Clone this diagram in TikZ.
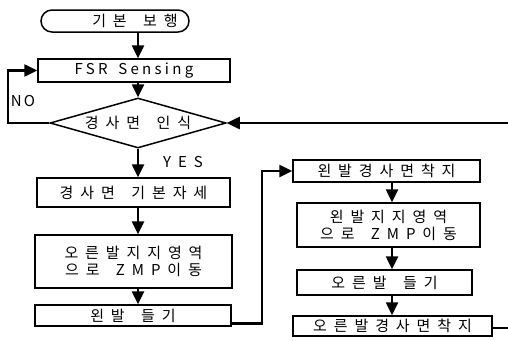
\documentclass[tikz,border=0pt]{standalone}
\usepackage{fontspec}
\setmainfont{Noto Sans CJK KR}[LetterSpace=46,WordSpace=1.6]
\usetikzlibrary{shapes.geometric,arrows.meta}
\tikzset{
    box/.style={draw,line width=1.5pt,inner sep=0pt,align=center,font=\fontsize{15}{17}\selectfont},
    term/.style={box,rounded corners=11pt},
    decision/.style={box,diamond,aspect=3.52},
    tag/.style={inner sep=0pt,font=\fontsize{15}{17}\selectfont},
    flow/.style={line width=2.5pt,-{Triangle[width=12pt,length=13pt]}}
}

\begin{document}
\begin{tikzpicture}[x=1pt,y=-1pt]
\useasboundingbox (0,0) rectangle (508,340);
\coordinate (lturn) at (8,0);
\coordinate (mturn) at (262,0);
\coordinate (rturn) at (512,0);
\coordinate (raxis) at (392,0);
\node[term,minimum width=148pt,minimum height=22pt] (start) at (115,21) {\hspace*{40pt}기본 보행};
\node[box,minimum width=192pt,minimum height=23pt] (fsr) at (134,70.5) {\addfontfeature{LetterSpace=22}FSR Sensing};
\node[decision,minimum width=176pt,minimum height=50pt] (slope) at (138,123) {경사면 인식};
\node[box,minimum width=193pt,minimum height=29pt] (pose) at (133.5,192.5) {경사면 기본자세};
\node[box,minimum width=197pt,minimum height=53pt] (zmpR) at (133.5,261.5) {오른발지지영역\\으로 ZMP이동};
\node[box,minimum width=196pt,minimum height=21pt] (liftL) at (133,315.5) {왼발 들기};
\node[box,minimum width=187pt,minimum height=22pt] (landL) at (386.5,171) {왼발경사면착지};
\node[box,minimum width=183pt,minimum height=44pt] (zmpL) at (388.5,225) {왼발지지영역\\으로 ZMP이동};
\node[box,minimum width=175pt,minimum height=25pt] (liftR) at (384.5,282.5) {오른발 들기};
\node[box,minimum width=199pt,minimum height=20pt] (landR) at (392.5,326) {오른발경사면착지};
\node[tag] (yes) at (183,162) {YES};
\node[tag] (no) at (23,101) {\addfontfeature{LetterSpace=15}NO};
\draw[flow] (start.south -| slope.north) -- (fsr.north -| slope.north);
\draw[flow] (fsr.south -| slope.north) -- (slope.north);
\draw[flow] (slope.south) -- (pose.north -| slope.south);
\draw[flow] (pose.south -| slope.south) -- (zmpR.north -| slope.south);
\draw[flow] (zmpR.south -| slope.south) -- (liftL.north -| slope.south);
\draw[flow] (slope.west) -- (slope.west -| lturn) -- (fsr.west -| lturn) -- (fsr.west);
\draw[flow] ([yshift=-8pt]liftL.east) -- ([yshift=-8pt]liftL.east -| mturn) -- (landL.west -| mturn) -- (landL.west);
\draw[flow] (landL.south -| raxis) -- (zmpL.north -| raxis);
\draw[flow] (zmpL.south -| raxis) -- (liftR.north -| raxis);
\draw[flow] (liftR.south -| raxis) -- (landR.north -| raxis);
\draw[flow] ([yshift=-2pt]landR.east) -- ([yshift=-2pt]landR.east -| rturn) -- (slope.east -| rturn) -- (slope.east);
\end{tikzpicture}
\end{document}
